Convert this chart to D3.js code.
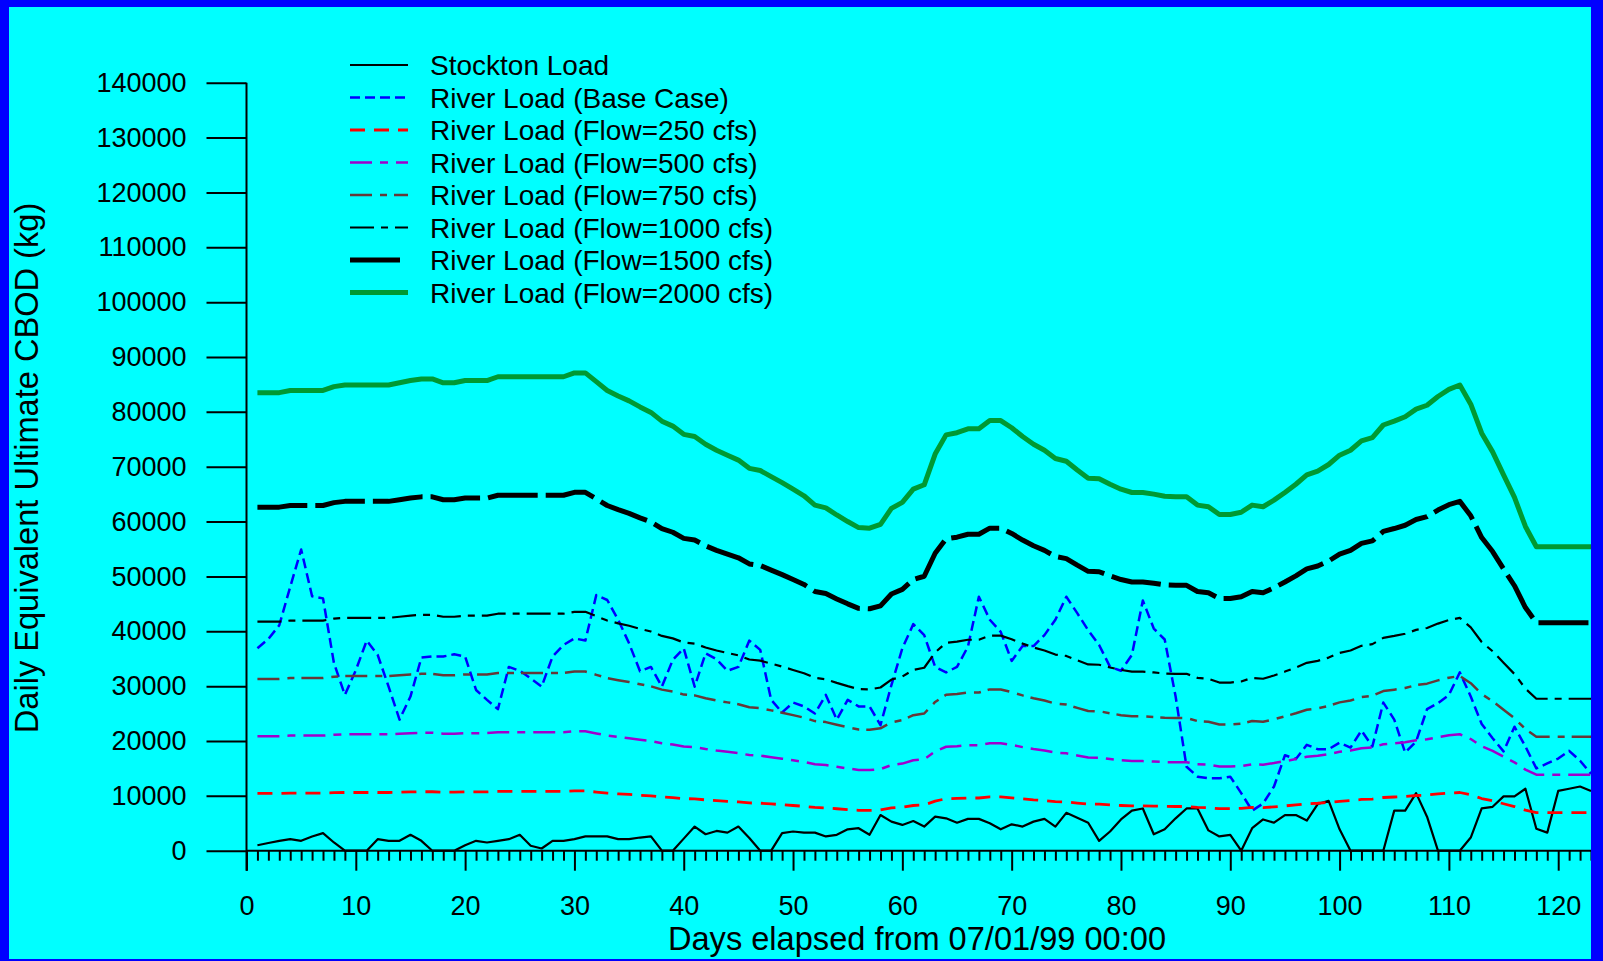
<!DOCTYPE html>
<html>
<head>
<meta charset="utf-8">
<script src="https://cdn.jsdelivr.net/npm/d3@7"></script>
<style>
  html, body { margin: 0; padding: 0; background: #0000FF; }
  svg { display: block; }
  text { font-family: "Liberation Sans", Arial, Helvetica, sans-serif; fill: #000; }
</style>
</head>
<body>
<svg id="chart" width="1603" height="961"></svg>
<script>
// ---- data: daily loads (kg), day 1 .. day 123 ----
const days = d3.range(1, 124);

const stocktonLoad = [
  1000, 1400, 1800, 2100, 1800, 2600, 3200, 1500, 0, 0,
  0, 2100, 1800, 1800, 2900, 1800, 0, 0, 0, 1000,
  1800, 1500, 1800, 2100, 2900, 900, 400, 1800, 1800, 2100,
  2600, 2600, 2600, 2100, 2100, 2400, 2600, 0, 0, 2200,
  4400, 3000, 3600, 3300, 4400, 2300, 0, 0, 3200, 3500,
  3300, 3300, 2600, 2900, 3900, 4100, 2900, 6500, 5300, 4700,
  5400, 4400, 6200, 5900, 5100, 5800, 5800, 5000, 3900, 4800,
  4400, 5300, 5800, 4400, 6900, 6000, 5100, 1800, 3500, 5700,
  7300, 7700, 3000, 3900, 5900, 7700, 7700, 3700, 2600, 2900,
  0, 4100, 5700, 5100, 6500, 6500, 5500, 8500, 9100, 3900,
  0, 0, 0, 0, 7300, 7300, 10500, 6200, 0, 0,
  0, 2400, 7700, 8000, 9900, 9900, 11300, 4000, 3300, 10900,
  11300, 11700, 10900
];

const riverBase = [
  36900, 38600, 41100, 48100, 54900, 46400, 46000, 34200, 28400, 32900,
  38300, 35700, 29900, 23900, 28100, 35200, 35400, 35400, 35800, 35400,
  29300, 27500, 25800, 33500, 32800, 31400, 29900, 35400, 37500, 38700,
  38300, 46600, 45700, 42100, 37800, 32700, 33500, 29900, 34800, 36900,
  29900, 36000, 34900, 32800, 33500, 38300, 36600, 27500, 25200, 27000,
  26300, 25000, 28400, 23900, 27500, 26300, 26300, 22900, 30200, 36900,
  41300, 39300, 33500, 32500, 33500, 37200, 46300, 42100, 39900, 34600,
  37300, 37300, 39300, 42100, 46300, 43300, 40200, 37500, 33500, 32800,
  35700, 45600, 40500, 38500, 28100, 15300, 13500, 13200, 13200, 13500,
  10500, 7300, 8600, 11700, 17400, 16700, 19300, 18500, 18500, 19700,
  18800, 21900, 19000, 27000, 23900, 17900, 19900, 25800, 26900, 28400,
  32500, 28100, 23100, 20500, 18100, 22600, 19000, 15000, 15900, 16800,
  18200, 16400, 14000
];

const river250 = [
  10440, 10440, 10440, 10490, 10490, 10490, 10490, 10580, 10610, 10610,
  10610, 10610, 10610, 10660, 10710, 10750, 10750, 10660, 10660, 10710,
  10710, 10710, 10800, 10800, 10800, 10800, 10800, 10800, 10800, 10890,
  10890, 10690, 10490, 10360, 10250, 10110, 9990, 9790, 9680, 9490,
  9440, 9260, 9130, 9010, 8900, 8710, 8660, 8530, 8390, 8240,
  8090, 7880, 7810, 7650, 7500, 7360, 7350, 7440, 7800, 7940,
  8240, 8340, 9040, 9480, 9530, 9610, 9610, 9800, 9800, 9640,
  9440, 9260, 9130, 8940, 8880, 8680, 8490, 8480, 8350, 8240,
  8160, 8160, 8130, 8080, 8060, 8060, 7880, 7840, 7660, 7660,
  7710, 7880, 7840, 7990, 8160, 8350, 8560, 8650, 8800, 9010,
  9130, 9340, 9410, 9700, 9790, 9890, 10060, 10150, 10350, 10510,
  10610, 10180, 9510, 9090, 8560, 8050, 7390, 6930, 6930, 6930,
  6930, 6930, 6930
];

const river500 = [
  20880, 20880, 20880, 20980, 20980, 20980, 20980, 21150, 21230, 21230,
  21230, 21230, 21230, 21330, 21430, 21500, 21500, 21330, 21330, 21430,
  21430, 21430, 21600, 21600, 21600, 21600, 21600, 21600, 21600, 21780,
  21780, 21380, 20980, 20730, 20500, 20230, 19980, 19580, 19350, 18980,
  18880, 18530, 18250, 18030, 17800, 17430, 17330, 17050, 16780, 16480,
  16180, 15750, 15630, 15300, 15000, 14730, 14700, 14880, 15600, 15880,
  16480, 16680, 18080, 18950, 19050, 19230, 19230, 19600, 19600, 19280,
  18880, 18530, 18250, 17880, 17750, 17350, 16980, 16950, 16700, 16480,
  16330, 16330, 16250, 16150, 16130, 16130, 15750, 15680, 15330, 15330,
  15430, 15750, 15680, 15980, 16330, 16700, 17130, 17300, 17600, 18030,
  18250, 18680, 18830, 19400, 19580, 19780, 20130, 20300, 20700, 21030,
  21230, 20350, 19030, 18180, 17130, 16100, 14780, 13850, 13850, 13850,
  13850, 13850, 13850
];

const river750 = [
  31310, 31310, 31310, 31460, 31460, 31460, 31460, 31730, 31840, 31840,
  31840, 31840, 31840, 31990, 32140, 32250, 32250, 31990, 31990, 32140,
  32140, 32140, 32400, 32400, 32400, 32400, 32400, 32400, 32400, 32660,
  32660, 32060, 31460, 31090, 30750, 30340, 29960, 29360, 29030, 28460,
  28310, 27790, 27380, 27040, 26700, 26140, 25990, 25580, 25160, 24710,
  24260, 23630, 23440, 22950, 22500, 22090, 22050, 22310, 23400, 23810,
  24710, 25010, 27110, 28430, 28580, 28840, 28840, 29400, 29400, 28910,
  28310, 27790, 27380, 26810, 26630, 26030, 25460, 25430, 25050, 24710,
  24490, 24490, 24380, 24230, 24190, 24190, 23630, 23510, 22990, 22990,
  23140, 23630, 23510, 23960, 24490, 25050, 25690, 25950, 26400, 27040,
  27380, 28010, 28240, 29100, 29360, 29660, 30190, 30450, 31050, 31540,
  31840, 30530, 28540, 27260, 25690, 24150, 22160, 20780, 20780, 20780,
  20780, 20780, 20780
];

const river1000 = [
  41750, 41750, 41750, 41950, 41950, 41950, 41950, 42300, 42450, 42450,
  42450, 42450, 42450, 42650, 42850, 43000, 43000, 42650, 42650, 42850,
  42850, 42850, 43200, 43200, 43200, 43200, 43200, 43200, 43200, 43550,
  43550, 42750, 41950, 41450, 41000, 40450, 39950, 39150, 38700, 37950,
  37750, 37050, 36500, 36050, 35600, 34850, 34650, 34100, 33550, 32950,
  32350, 31500, 31250, 30600, 30000, 29450, 29400, 29750, 31200, 31750,
  32950, 33350, 36150, 37900, 38100, 38450, 38450, 39200, 39200, 38550,
  37750, 37050, 36500, 35750, 35500, 34700, 33950, 33900, 33400, 32950,
  32650, 32650, 32500, 32300, 32250, 32250, 31500, 31350, 30650, 30650,
  30850, 31500, 31350, 31950, 32650, 33400, 34250, 34600, 35200, 36050,
  36500, 37350, 37650, 38800, 39150, 39550, 40250, 40600, 41400, 42050,
  42450, 40700, 38050, 36350, 34250, 32200, 29550, 27700, 27700, 27700,
  27700, 27700, 27700
];

const river1500 = [
  62630, 62630, 62630, 62930, 62930, 62930, 62930, 63450, 63680, 63680,
  63680, 63680, 63680, 63980, 64280, 64500, 64500, 63980, 63980, 64280,
  64280, 64280, 64800, 64800, 64800, 64800, 64800, 64800, 64800, 65330,
  65330, 64130, 62930, 62180, 61500, 60680, 59930, 58730, 58050, 56930,
  56630, 55580, 54750, 54080, 53400, 52280, 51980, 51150, 50330, 49430,
  48530, 47250, 46880, 45900, 45000, 44180, 44100, 44630, 46800, 47630,
  49430, 50030, 54230, 56850, 57150, 57680, 57680, 58800, 58800, 57830,
  56630, 55580, 54750, 53630, 53250, 52050, 50930, 50850, 50100, 49430,
  48980, 48980, 48750, 48450, 48380, 48380, 47250, 47030, 45980, 45980,
  46280, 47250, 47030, 47930, 48980, 50100, 51380, 51900, 52800, 54080,
  54750, 56030, 56480, 58200, 58730, 59330, 60380, 60900, 62100, 63080,
  63680, 61050, 57080, 54530, 51380, 48300, 44330, 41550, 41550, 41550,
  41550, 41550, 41550
];

const river2000 = [
  83500, 83500, 83500, 83900, 83900, 83900, 83900, 84600, 84900, 84900,
  84900, 84900, 84900, 85300, 85700, 86000, 86000, 85300, 85300, 85700,
  85700, 85700, 86400, 86400, 86400, 86400, 86400, 86400, 86400, 87100,
  87100, 85500, 83900, 82900, 82000, 80900, 79900, 78300, 77400, 75900,
  75500, 74100, 73000, 72100, 71200, 69700, 69300, 68200, 67100, 65900,
  64700, 63000, 62500, 61200, 60000, 58900, 58800, 59500, 62400, 63500,
  65900, 66700, 72300, 75800, 76200, 76900, 76900, 78400, 78400, 77100,
  75500, 74100, 73000, 71500, 71000, 69400, 67900, 67800, 66800, 65900,
  65300, 65300, 65000, 64600, 64500, 64500, 63000, 62700, 61300, 61300,
  61700, 63000, 62700, 63900, 65300, 66800, 68500, 69200, 70400, 72100,
  73000, 74700, 75300, 77600, 78300, 79100, 80500, 81200, 82800, 84100,
  84900, 81400, 76100, 72700, 68500, 64400, 59100, 55400, 55400, 55400,
  55400, 55400, 55400
];

const seriesNames = [
  "Stockton Load",
  "River Load (Base Case)",
  "River Load (Flow=250 cfs)",
  "River Load (Flow=500 cfs)",
  "River Load (Flow=750 cfs)",
  "River Load (Flow=1000 cfs)",
  "River Load (Flow=1500 cfs)",
  "River Load (Flow=2000 cfs)"
];
const seriesValues = [stocktonLoad, riverBase, river250, river500, river750, river1000, river1500, river2000];

const xTicks = [0, 10, 20, 30, 40, 50, 60, 70, 80, 90, 100, 110, 120];
const yTicks = [0, 10000, 20000, 30000, 40000, 50000, 60000, 70000, 80000, 90000, 100000, 110000, 120000, 130000, 140000];
const xTitle = "Days elapsed from 07/01/99 00:00";
const yTitle = "Daily Equivalent Ultimate CBOD (kg)";

// ---- line styles, one per series ----
const styles = [
  { color: "#000000", width: 2.2, dash: null },
  { color: "#0000FF", width: 2.5, dash: "10,5" },
  { color: "#FF0000", width: 2.8, dash: "15,9" },
  { color: "#A000CC", width: 2.5, dash: "22,8,8,8" },
  { color: "#663838", width: 2.5, dash: "22,8,7,7" },
  { color: "#000000", width: 2.2, dash: "24,7,7,7" },
  { color: "#000000", width: 5, dash: "50,8" },
  { color: "#009933", width: 5, dash: null }
];

// ---- layout ----
const W = 1603, H = 961;
const plotLeft = 246.5, plotRight = 1591, plotTop = 82.7, plotBottom = 850.7;

const svg = d3.select("#chart");

svg.append("rect").attr("x", 0).attr("y", 0).attr("width", W).attr("height", H).attr("fill", "#00FFFF");

const x = d3.scaleLinear().domain([0, 123]).range([plotLeft, plotRight]);
const y = d3.scaleLinear().domain([0, 140000]).range([plotBottom, plotTop]);

// y axis: long outward ticks, labels right-aligned
const yAxis = svg.append("g")
  .attr("transform", `translate(${plotLeft},0)`)
  .call(d3.axisLeft(y).tickValues(yTicks).tickSize(40).tickSizeOuter(0).tickPadding(20).tickFormat(d3.format("d")));
yAxis.select(".domain").remove();
yAxis.selectAll(".tick line").attr("stroke", "#000").attr("stroke-width", 2);
yAxis.selectAll(".tick text").attr("font-size", 27).attr("font-family", "Liberation Sans, Arial, sans-serif");

// x axis: major ticks every 10 days, minor ticks every day
const minorDays = d3.range(0, 124).filter(d => d % 10 !== 0);
const xMinor = svg.append("g")
  .attr("transform", `translate(0,${plotBottom})`)
  .call(d3.axisBottom(x).tickValues(minorDays).tickSize(10).tickSizeOuter(0).tickFormat(""));
xMinor.select(".domain").remove();
xMinor.selectAll(".tick line").attr("stroke", "#000").attr("stroke-width", 2);

const xAxis = svg.append("g")
  .attr("transform", `translate(0,${plotBottom})`)
  .call(d3.axisBottom(x).tickValues(xTicks).tickSize(20).tickSizeOuter(0).tickPadding(25).tickFormat(d3.format("d")));
xAxis.select(".domain").remove();
xAxis.selectAll(".tick line").attr("stroke", "#000").attr("stroke-width", 2);
xAxis.selectAll(".tick text").attr("font-size", 27).attr("font-family", "Liberation Sans, Arial, sans-serif");

// axis lines
svg.append("line")
  .attr("x1", plotLeft).attr("x2", plotLeft)
  .attr("y1", y(140000)).attr("y2", plotBottom + 20)
  .attr("stroke", "#000").attr("stroke-width", 2);
svg.append("line")
  .attr("x1", plotLeft).attr("x2", plotRight)
  .attr("y1", plotBottom).attr("y2", plotBottom)
  .attr("stroke", "#000").attr("stroke-width", 2);

// series lines
const line = d3.line()
  .x((v, i) => x(days[i]))
  .y(v => y(v));

seriesValues.forEach((vals, k) => {
  const s = styles[k];
  svg.append("path")
    .datum(vals)
    .attr("d", line)
    .attr("fill", "none")
    .attr("stroke", s.color)
    .attr("stroke-width", s.width)
    .attr("stroke-linejoin", "round")
    .attr("stroke-dasharray", s.dash);
});

// legend
const legend = svg.append("g");
seriesNames.forEach((name, k) => {
  const s = styles[k];
  const ly = 65 + k * 32.5;
  legend.append("line")
    .attr("x1", 350).attr("x2", 408)
    .attr("y1", ly).attr("y2", ly)
    .attr("stroke", s.color)
    .attr("stroke-width", s.width)
    .attr("stroke-dasharray", s.dash);
  legend.append("text")
    .attr("x", 430).attr("y", ly + 10)
    .attr("font-size", 28)
    .text(name);
});

// axis titles
svg.append("text")
  .attr("x", 917).attr("y", 950)
  .attr("text-anchor", "middle")
  .attr("font-size", 32.6)
  .text(xTitle);
svg.append("text")
  .attr("transform", "translate(38,468) rotate(-90)")
  .attr("text-anchor", "middle")
  .attr("font-size", 32.6)
  .text(yTitle);

// blue frame
const frame = svg.append("g").attr("fill", "#0000FF");
frame.append("rect").attr("x", 0).attr("y", 0).attr("width", W).attr("height", 7);
frame.append("rect").attr("x", 0).attr("y", 0).attr("width", 9).attr("height", H);
frame.append("rect").attr("x", plotRight).attr("y", 0).attr("width", W - plotRight).attr("height", H);
frame.append("rect").attr("x", 0).attr("y", 959).attr("width", W).attr("height", 2);
</script>
</body>
</html>
